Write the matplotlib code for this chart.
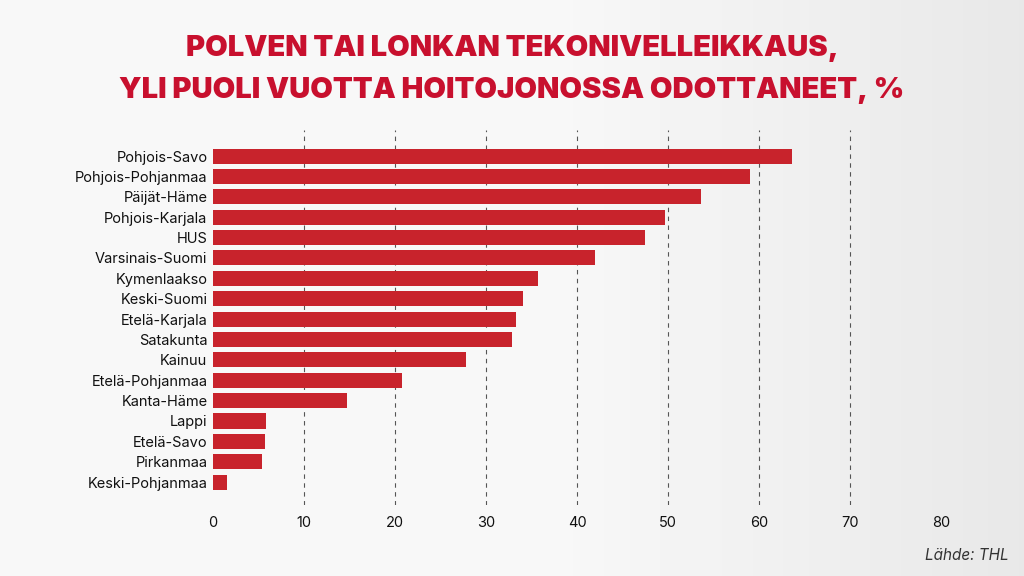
import matplotlib
matplotlib.use("Agg")
import matplotlib.pyplot as plt
import numpy as np

regions = ["Pohjois-Savo","Pohjois-Pohjanmaa","Päijät-Häme","Pohjois-Karjala","HUS",
           "Varsinais-Suomi","Kymenlaakso","Keski-Suomi","Etelä-Karjala","Satakunta",
           "Kainuu","Etelä-Pohjanmaa","Kanta-Häme","Lappi","Etelä-Savo","Pirkanmaa",
           "Keski-Pohjanmaa"]
values = [63.6,59.0,53.6,49.7,47.5,42.0,35.7,34.1,33.3,32.9,27.8,20.8,14.7,5.8,5.7,5.4,1.5]
xticks = [0,10,20,30,40,50,60,70,80]

fig = plt.figure(figsize=(10.24,5.76), dpi=100)
bg = fig.add_axes([0,0,1,1]); bg.set_axis_off()
gx = np.linspace(0,1,200)
grad = np.tile(0.97 - 0.06*np.clip((gx-0.55)/0.45,0,1), (50,1))
bg.imshow(grad, cmap="gray", vmin=0, vmax=1, aspect="auto", extent=[0,1,0,1])

ax = fig.add_axes([0.208,0.123,0.711,0.651])
ax.set_facecolor("none")
y = np.arange(len(regions))
ax.barh(y, values, height=0.74, color="#c8232c")
ax.set_ylim(len(regions)-1+1.13, -1.27)
ax.set_xlim(0,80)
ax.set_xticks(xticks)
ax.set_yticks(y, regions)
for x in xticks[1:-1]:
    ax.axvline(x, color="#555555", ls=(0,(4,4)), lw=0.8, zorder=0)
for s in ax.spines.values(): s.set_visible(False)
ax.tick_params(length=0, labelsize=10.5, colors="#111111", pad=4)
ax.tick_params(axis="x", pad=8)
for t in ax.get_xticklabels()+ax.get_yticklabels(): t.set_fontfamily("Inter")

fig.text(0.5,0.915,"POLVEN TAI LONKAN TEKONIVELLEIKKAUS,", ha="center", va="center",
         fontsize=21, fontweight=900, color="#c8102e", family="Inter")
fig.text(0.5,0.843,"YLI PUOLI VUOTTA HOITOJONOSSA ODOTTANEET, %", ha="center", va="center",
         fontsize=21, fontweight=900, color="#c8102e", family="Inter")
fig.text(0.985,0.035,"Lähde: THL", ha="right", va="center", fontsize=11,
         style="italic", color="#333333", family="Inter")
fig.savefig("out.png", dpi=100)
